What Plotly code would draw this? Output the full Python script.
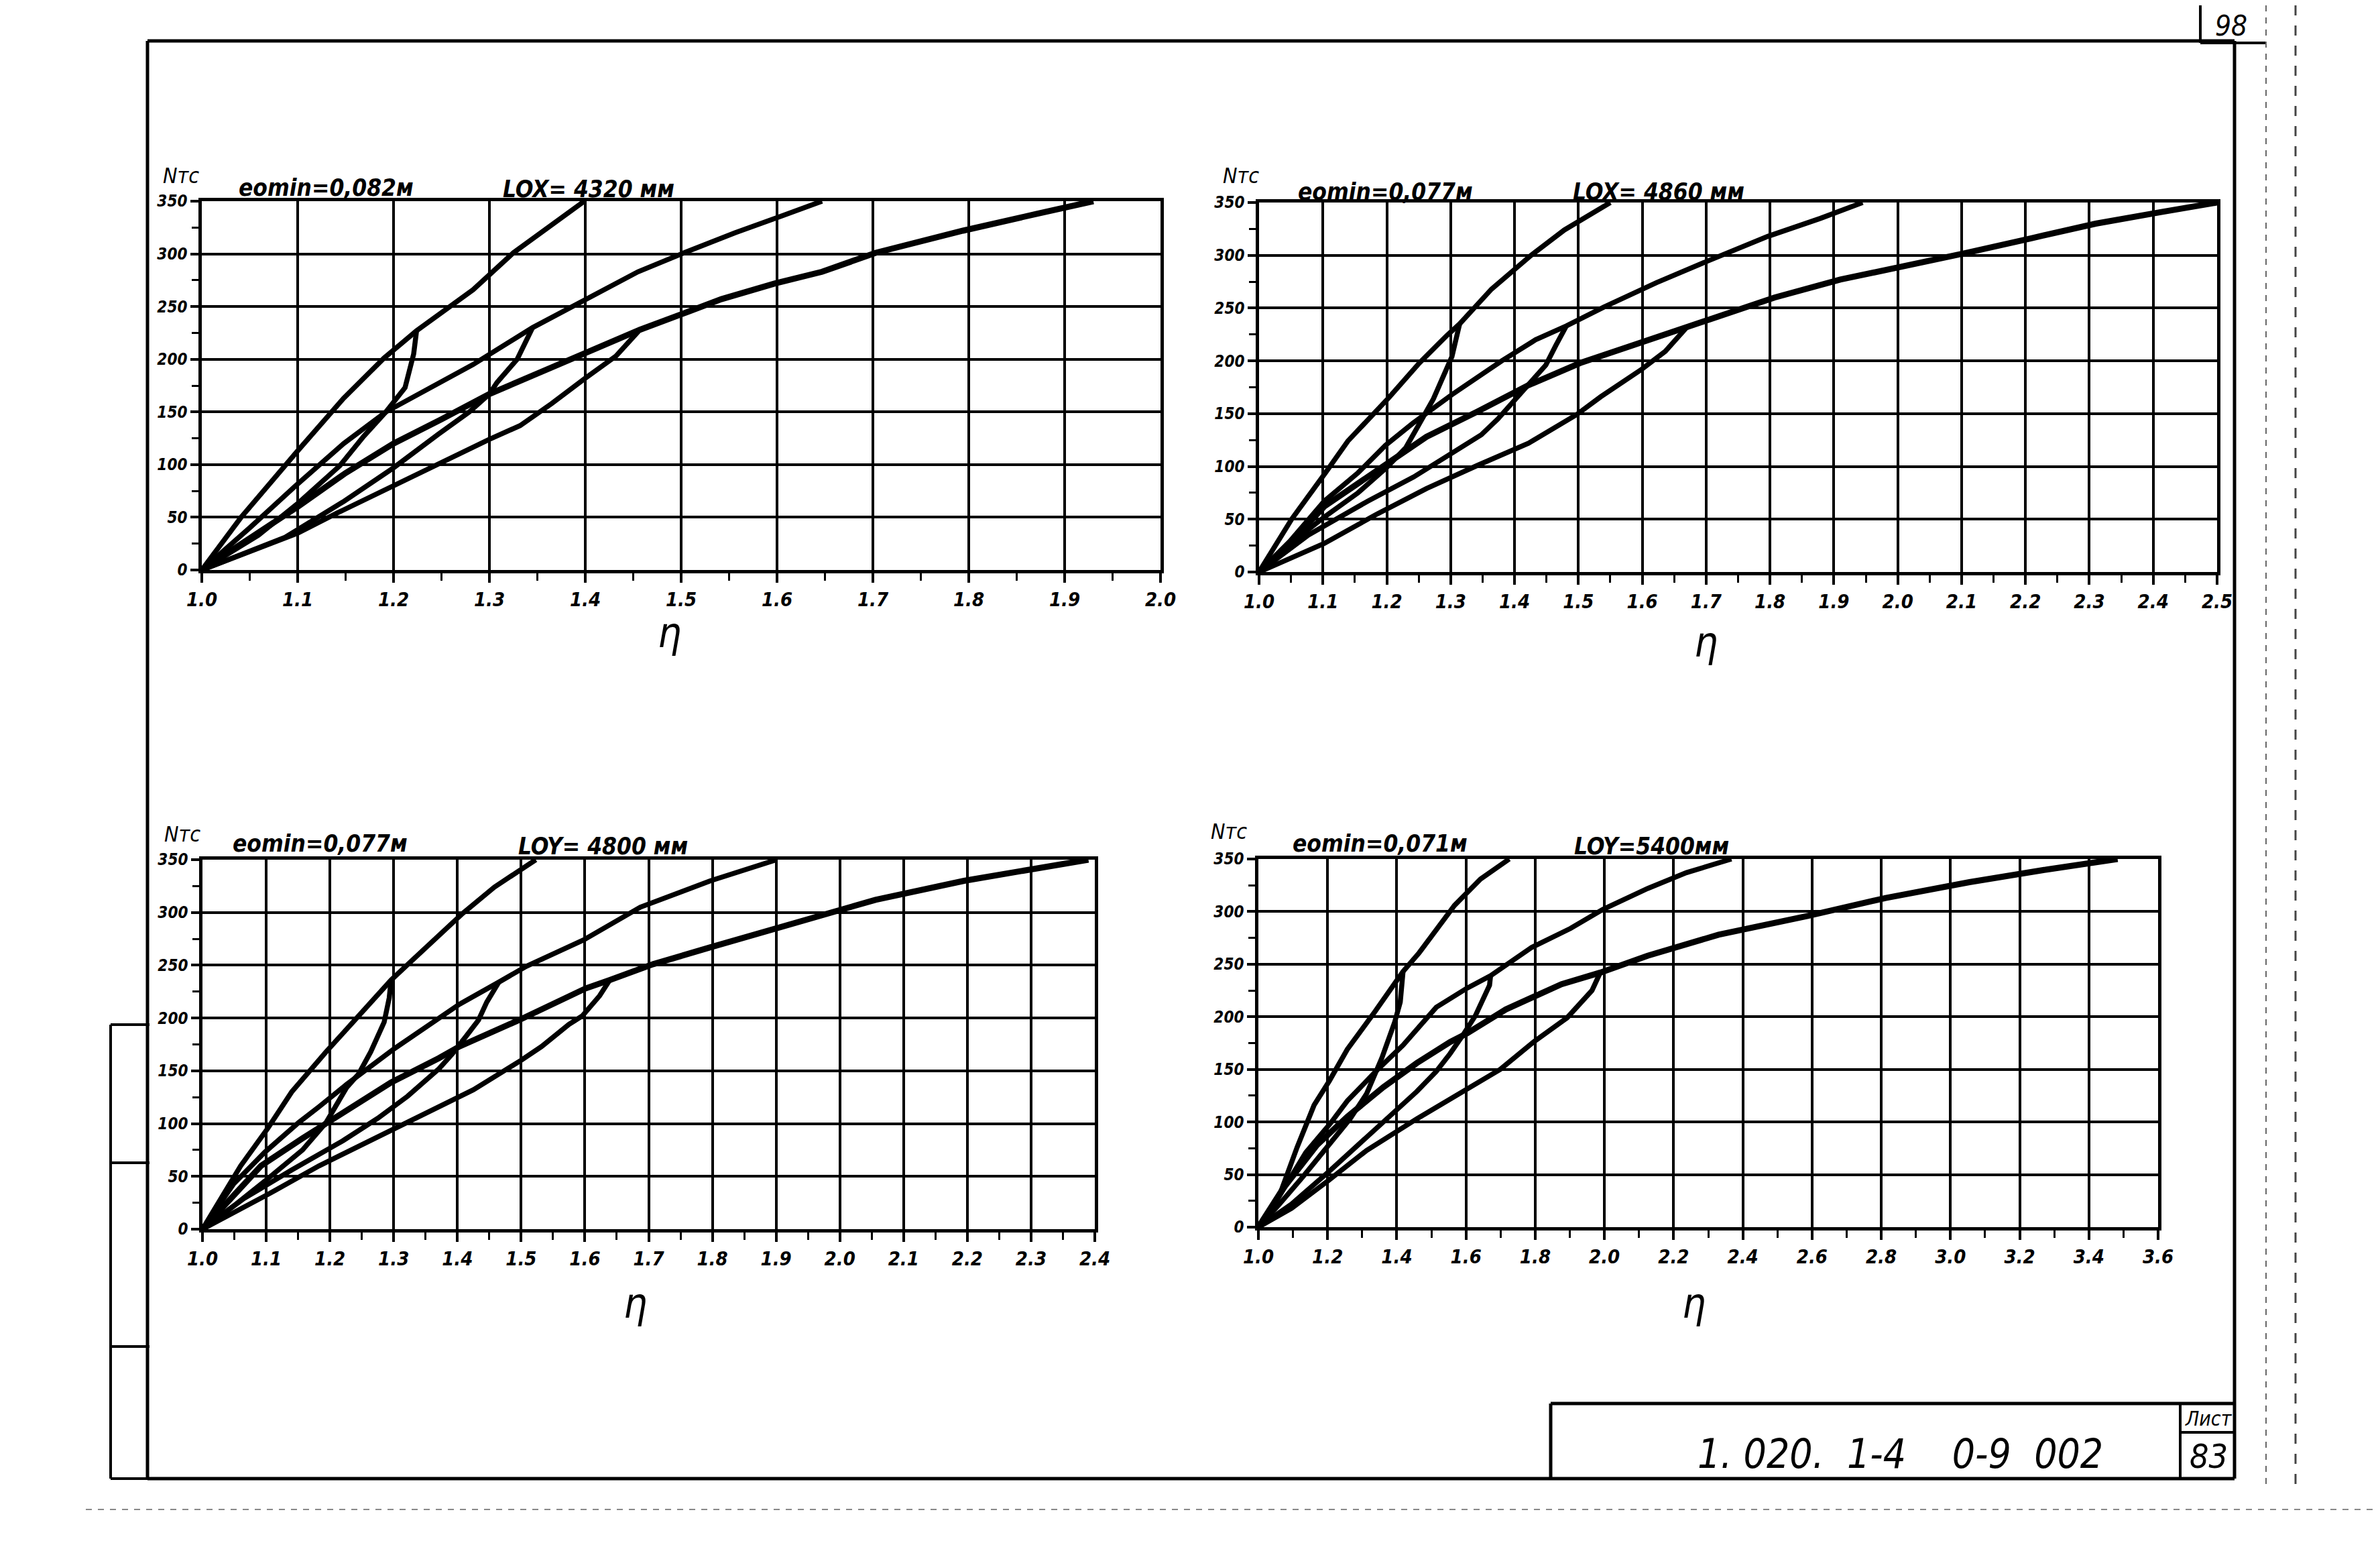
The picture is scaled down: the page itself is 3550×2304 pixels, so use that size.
import plotly.graph_objects as go

W, H = 3550, 2304

# ---------------- data (η vs N, тс) ----------------
# Chart 1: eomin=0,082м, LOX=4320 мм
c1_u1_x = [1.0, 1.041, 1.099, 1.148, 1.19, 1.224, 1.283, 1.325, 1.399]
c1_u1_y = [0, 50, 112, 163, 201, 227, 266, 301, 350]
c1_l1_x = [1.0, 1.059, 1.1, 1.144, 1.169, 1.192, 1.212, 1.221, 1.224]
c1_l1_y = [0, 33, 63, 99, 127, 150, 173, 205, 227]
c1_u2_x = [1.0, 1.05, 1.098, 1.148, 1.192, 1.244, 1.283, 1.345, 1.399, 1.455, 1.503, 1.556, 1.605, 1.647]
c1_u2_y = [0, 40, 80, 120, 150, 175, 195, 230, 256, 283, 301, 320, 336, 350]
c1_l2_x = [1.0, 1.087, 1.148, 1.2, 1.247, 1.279, 1.3, 1.308, 1.329, 1.345]
c1_l2_y = [0, 31, 65, 97, 129, 150, 167, 178, 200, 230]
c1_u3_x = [1.0, 1.05, 1.1, 1.15, 1.2, 1.25, 1.3, 1.372, 1.457, 1.507, 1.542, 1.598, 1.647, 1.703, 1.794, 1.871, 1.93]
c1_u3_y = [0, 30, 60, 92, 120, 143, 167, 195, 228, 245, 257, 272, 283, 301, 322, 338, 350]
c1_l3_x = [1.0, 1.05, 1.1, 1.141, 1.2, 1.247, 1.3, 1.332, 1.365, 1.4, 1.432, 1.457]
c1_l3_y = [0, 18, 35, 54, 80, 101, 124, 137, 158, 182, 203, 228]

# Chart 2: eomin=0,077м, LOX=4860 мм
c2_u1_x = [1.0, 1.051, 1.104, 1.139, 1.203, 1.251, 1.294, 1.314, 1.364, 1.426, 1.478, 1.55]
c2_u1_y = [0, 50, 94, 124, 165, 198, 224, 235, 268, 300, 324, 350]
c2_l1_x = [1.0, 1.043, 1.102, 1.155, 1.2, 1.23, 1.246, 1.273, 1.302, 1.314]
c2_l1_y = [0, 24, 52, 75, 99, 118, 135, 164, 204, 235]
c2_u2_x = [1.0, 1.048, 1.102, 1.155, 1.198, 1.241, 1.302, 1.38, 1.433, 1.481, 1.54, 1.622, 1.704, 1.797, 1.879, 1.945]
c2_u2_y = [0, 29, 67, 94, 120, 141, 168, 200, 220, 233, 251, 274, 295, 318, 335, 350]
c2_l2_x = [1.0, 1.077, 1.17, 1.242, 1.303, 1.348, 1.374, 1.396, 1.417, 1.449, 1.465, 1.481]
c2_l2_y = [0, 35, 67, 90, 113, 130, 145, 160, 173, 196, 215, 233]
c2_u3_x = [1.0, 1.048, 1.102, 1.203, 1.262, 1.342, 1.422, 1.503, 1.6, 1.67, 1.745, 1.807, 1.91, 2.033, 2.105, 2.208, 2.31, 2.413, 2.5]
c2_u3_y = [0, 27, 62, 103, 128, 152, 177, 198, 218, 232, 248, 260, 277, 292, 302, 316, 330, 341, 350]
c2_l3_x = [1.0, 1.102, 1.182, 1.262, 1.342, 1.422, 1.497, 1.535, 1.599, 1.636, 1.67]
c2_l3_y = [0, 27, 54, 79, 101, 122, 149, 166, 192, 209, 232]

# Chart 3: eomin=0,077м, LOY=4800 мм
c3_u1_x = [1.0, 1.06, 1.103, 1.14, 1.194, 1.242, 1.296, 1.319, 1.359, 1.408, 1.458, 1.523]
c3_u1_y = [0, 60, 96, 130, 168, 200, 236, 249, 272, 299, 324, 350]
c3_l1_x = [1.0, 1.049, 1.103, 1.157, 1.194, 1.226, 1.245, 1.264, 1.285, 1.293, 1.296]
c3_l1_y = [0, 22, 48, 75, 101, 134, 147, 168, 196, 219, 236]
c3_u2_x = [1.0, 1.049, 1.098, 1.151, 1.183, 1.226, 1.301, 1.366, 1.403, 1.465, 1.508, 1.598, 1.687, 1.797, 1.901]
c3_u2_y = [0, 43, 73, 101, 116, 137, 171, 198, 213, 234, 249, 274, 305, 330, 350]
c3_l2_x = [1.0, 1.065, 1.14, 1.221, 1.275, 1.322, 1.371, 1.392, 1.414, 1.433, 1.446, 1.465]
c3_l2_y = [0, 29, 56, 84, 105, 126, 152, 166, 183, 198, 215, 234]
c3_u3_x = [1.0, 1.092, 1.157, 1.226, 1.296, 1.371, 1.403, 1.5, 1.601, 1.639, 1.707, 1.797, 1.896, 1.996, 2.056, 2.195, 2.295, 2.39]
c3_u3_y = [0, 60, 86, 113, 139, 162, 173, 199, 228, 236, 251, 267, 284, 302, 312, 330, 341, 350]
c3_l3_x = [1.0, 1.103, 1.183, 1.264, 1.328, 1.425, 1.5, 1.532, 1.575, 1.596, 1.623, 1.639]
c3_l3_y = [0, 33, 60, 84, 103, 132, 160, 173, 194, 202, 221, 236]

# Chart 4: eomin=0,071м, LOY=5400 мм
c4_u1_x = [1.0, 1.064, 1.112, 1.161, 1.205, 1.257, 1.337, 1.418, 1.465, 1.567, 1.642, 1.725]
c4_u1_y = [0, 33, 76, 116, 139, 169, 205, 243, 261, 306, 331, 350]
c4_l1_x = [1.0, 1.056, 1.129, 1.205, 1.265, 1.313, 1.357, 1.394, 1.41, 1.418]
c4_l1_y = [0, 20, 48, 78, 103, 127, 161, 195, 214, 243]
c4_u2_x = [1.0, 1.056, 1.137, 1.209, 1.257, 1.345, 1.418, 1.514, 1.602, 1.671, 1.79, 1.902, 1.995, 2.125, 2.237, 2.367]
c4_u2_y = [0, 27, 71, 99, 120, 150, 173, 209, 227, 239, 266, 284, 302, 322, 337, 350]
c4_l2_x = [1.0, 1.096, 1.201, 1.313, 1.394, 1.458, 1.514, 1.554, 1.594, 1.627, 1.668, 1.671]
c4_l2_y = [0, 22, 52, 86, 110, 129, 148, 165, 184, 201, 230, 239]
c4_u3_x = [1.0, 1.072, 1.169, 1.257, 1.361, 1.458, 1.554, 1.602, 1.715, 1.876, 1.988, 2.125, 2.33, 2.59, 2.813, 3.055, 3.278, 3.483]
c4_u3_y = [0, 37, 78, 105, 133, 156, 176, 184, 207, 231, 242, 258, 278, 296, 313, 328, 340, 350]
c4_l3_x = [1.0, 1.096, 1.201, 1.313, 1.458, 1.594, 1.699, 1.795, 1.892, 1.964, 1.988]
c4_l3_y = [0, 18, 44, 73, 103, 129, 150, 176, 199, 225, 242]

# tick labels
x_ticks_c1 = [1.0, 1.1, 1.2, 1.3, 1.4, 1.5, 1.6, 1.7, 1.8, 1.9, 2.0]
x_labels_c1 = ["1.0", "1.1", "1.2", "1.3", "1.4", "1.5", "1.6", "1.7", "1.8", "1.9", "2.0"]
x_ticks_c2 = [1.0, 1.1, 1.2, 1.3, 1.4, 1.5, 1.6, 1.7, 1.8, 1.9, 2.0, 2.1, 2.2, 2.3, 2.4, 2.5]
x_labels_c2 = ["1.0", "1.1", "1.2", "1.3", "1.4", "1.5", "1.6", "1.7", "1.8", "1.9", "2.0",
               "2.1", "2.2", "2.3", "2.4", "2.5"]
x_ticks_c3 = [1.0, 1.1, 1.2, 1.3, 1.4, 1.5, 1.6, 1.7, 1.8, 1.9, 2.0, 2.1, 2.2, 2.3, 2.4]
x_labels_c3 = ["1.0", "1.1", "1.2", "1.3", "1.4", "1.5", "1.6", "1.7", "1.8", "1.9", "2.0",
               "2.1", "2.2", "2.3", "2.4"]
x_ticks_c4 = [1.0, 1.2, 1.4, 1.6, 1.8, 2.0, 2.2, 2.4, 2.6, 2.8, 3.0, 3.2, 3.4, 3.6]
x_labels_c4 = ["1.0", "1.2", "1.4", "1.6", "1.8", "2.0", "2.2", "2.4", "2.6", "2.8", "3.0",
               "3.2", "3.4", "3.6"]
y_ticks = [0, 50, 100, 150, 200, 250, 300, 350]
y_labels = ["0", "50", "100", "150", "200", "250", "300", "350"]

titles_e = ["eomin=0,082м", "eomin=0,077м", "eomin=0,077м", "eomin=0,071м"]
titles_l = ["LOX= 4320 мм", "LOX= 4860 мм", "LOY= 4800 мм", "LOY=5400мм"]

# ---------------- figure ----------------
FONT = "DejaVu Sans Condensed, DejaVu Sans, sans-serif"


def px(x):
    return x / W


def py(y):
    return 1 - y / H


charts = [
    dict(curves=[(c1_u1_x, c1_u1_y), (c1_l1_x, c1_l1_y), (c1_u2_x, c1_u2_y),
                 (c1_l2_x, c1_l2_y), (c1_u3_x, c1_u3_y), (c1_l3_x, c1_l3_y)],
         xt=x_ticks_c1, xl=x_labels_c1, minor=0.05,
         box=(293, 1723, 292, 842),
         n_pos=(262, 254), e_pos=(478, 272), l_pos=(870, 274), eta_pos=(990, 935)),
    dict(curves=[(c2_u1_x, c2_u1_y), (c2_l1_x, c2_l1_y), (c2_u2_x, c2_u2_y),
                 (c2_l2_x, c2_l2_y), (c2_u3_x, c2_u3_y), (c2_l3_x, c2_l3_y)],
         xt=x_ticks_c2, xl=x_labels_c2, minor=0.05,
         box=(1870, 3299, 294, 845),
         n_pos=(1843, 254), e_pos=(2058, 278), l_pos=(2466, 278), eta_pos=(2536, 950)),
    dict(curves=[(c3_u1_x, c3_u1_y), (c3_l1_x, c3_l1_y), (c3_u2_x, c3_u2_y),
                 (c3_l2_x, c3_l2_y), (c3_u3_x, c3_u3_y), (c3_l3_x, c3_l3_y)],
         xt=x_ticks_c3, xl=x_labels_c3, minor=0.05,
         box=(294, 1625, 1274, 1825),
         n_pos=(264, 1236), e_pos=(470, 1250), l_pos=(892, 1254), eta_pos=(940, 1935)),
    dict(curves=[(c4_u1_x, c4_u1_y), (c4_l1_x, c4_l1_y), (c4_u2_x, c4_u2_y),
                 (c4_l2_x, c4_l2_y), (c4_u3_x, c4_u3_y), (c4_l3_x, c4_l3_y)],
         xt=x_ticks_c4, xl=x_labels_c4, minor=0.1,
         box=(1869, 3211, 1273, 1822),
         n_pos=(1825, 1232), e_pos=(2050, 1250), l_pos=(2455, 1254), eta_pos=(2518, 1935)),
]

fig = go.Figure()
annotations = []
layout_axes = {}


def ann(text, pos, size, weight="bold"):
    annotations.append(dict(
        text=text, x=px(pos[0]), y=py(pos[1]), xref="paper", yref="paper",
        showarrow=False, xanchor="center", yanchor="middle",
        font=dict(family=FONT, size=size, color="black", style="italic", weight=weight)))


for i, ch in enumerate(charts):
    n = "" if i == 0 else str(i + 1)
    for k, (xs, ys) in enumerate(ch["curves"]):
        fig.add_trace(go.Scatter(
            x=xs, y=ys, mode="lines",
            line=dict(color="black", width=9 if k == 4 else 7.5),
            xaxis="x" + n, yaxis="y" + n,
            showlegend=False, hoverinfo="skip"))
    x0, x1, y0, y1 = ch["box"]
    layout_axes["xaxis" + n] = dict(
        domain=[px(x0), px(x1)], range=[ch["xt"][0], ch["xt"][-1]],
        tickmode="array", tickvals=ch["xt"], ticktext=ch["xl"],
        ticks="outside", ticklen=14, tickwidth=3.5, tickcolor="black",
        showgrid=True, gridcolor="black", gridwidth=3.5,
        showline=True, linecolor="black", linewidth=4.5, mirror=True,
        zeroline=False, automargin=False,
        tickfont=dict(family=FONT, size=29, color="black", style="italic", weight="bold"),
        anchor="y" + n, fixedrange=True,
        minor=dict(tickmode="linear", tick0=ch["xt"][0], dtick=ch["minor"],
                   ticks="outside", ticklen=11, tickwidth=3, tickcolor="black",
                   showgrid=False))
    layout_axes["yaxis" + n] = dict(
        domain=[py(y1), py(y0)], range=[0, 350],
        tickmode="array", tickvals=y_ticks, ticktext=y_labels,
        ticks="outside", ticklen=12, tickwidth=3.5, tickcolor="black",
        showgrid=True, gridcolor="black", gridwidth=3.5,
        showline=True, linecolor="black", linewidth=4.5, mirror=True,
        zeroline=False, automargin=False,
        tickfont=dict(family=FONT, size=24, color="black", style="italic", weight="bold"),
        anchor="x" + n, fixedrange=True,
        minor=dict(tickmode="linear", tick0=0, dtick=25, ticks="outside",
                   ticklen=10, tickwidth=3, tickcolor="black", showgrid=False))

    ann("Nтс", ch["n_pos"], 32, "normal")
    ann(titles_e[i], ch["e_pos"], 35)
    ann(titles_l[i], ch["l_pos"], 35)
    ann("η", ch["eta_pos"], 62, "normal")

# title block texts
ann("1. 020.  1-4    0-9  002", (2826, 2160), 60, "normal")
ann("Лист", (3286, 2107), 30, "normal")
ann("83", (3286, 2164), 50, "normal")
ann("98", (3320, 30), 42, "normal")

# drawing frame
shapes = []


def line(xa, ya, xb, yb, w=5, color="black", dash="solid"):
    shapes.append(dict(type="line", xref="paper", yref="paper",
                       x0=px(xa), y0=py(ya), x1=px(xb), y1=py(yb),
                       line=dict(color=color, width=w, dash=dash)))


# outer frame
line(212, 53, 3325, 53)
line(212, 53, 212, 2197)
line(212, 2197, 3325, 2197)
line(3325, 53, 3325, 2197)
# left side strip
line(157, 1520, 215, 1520, 4)
line(157, 1520, 157, 2197, 4)
line(157, 1726, 215, 1726, 4)
line(157, 2000, 215, 2000, 4)
line(157, 2197, 215, 2197, 4)
# title block
line(2305, 2085, 3325, 2085, 5)
line(2305, 2085, 2305, 2197, 5)
line(3244, 2085, 3244, 2197, 4)
line(3244, 2128, 3325, 2128, 4)
# page number box
line(3274, 0, 3274, 56, 4)
line(3274, 56, 3372, 56, 4)
# scan edge artifacts
line(3372, 0, 3372, 2210, 2, "#666666", "dash")
line(3416, 0, 3416, 2215, 3, "#444444", "longdash")
line(120, 2243, 3550, 2243, 2, "#888888", "dash")
line(0, 2298, 3550, 2298, 2, "#bbbbbb", "dash")

fig.update_layout(
    width=W, height=H, autosize=False,
    margin=dict(l=0, r=0, t=0, b=0, pad=0, autoexpand=False),
    paper_bgcolor="white", plot_bgcolor="white",
    showlegend=False, annotations=annotations, shapes=shapes,
    **layout_axes)

fig.write_html("out.html")
